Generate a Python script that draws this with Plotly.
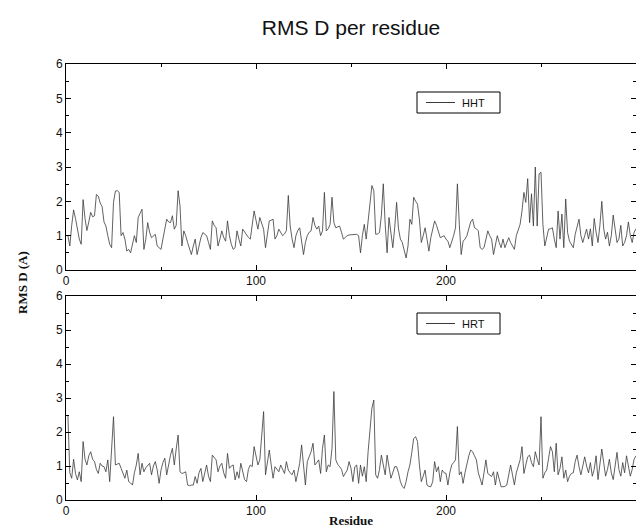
import plotly.graph_objects as go

residues = list(range(1, 301))

hht = [
    1.0, 0.7, 1.3, 1.75, 1.5, 1.2, 0.9, 0.75, 2.05, 1.5,
    1.15, 1.4, 1.68, 1.55, 1.58, 2.2, 2.15, 1.95, 1.85, 1.4,
    1.28, 1.0, 0.75, 0.65, 1.97, 2.3, 2.31, 2.26, 1.0, 1.09,
    0.9, 0.55, 0.6, 0.5, 0.8, 1.0, 0.8, 1.53, 1.65, 1.77,
    0.6, 0.9, 1.38, 1.1, 0.94, 1.0, 1.04, 0.7, 0.65, 0.6,
    0.9, 1.19, 1.48, 1.4, 1.38, 1.58, 1.19, 1.3, 2.31, 1.87,
    0.7, 1.14, 1.0, 0.8, 0.6, 0.45, 0.7, 0.9, 0.45, 0.7,
    0.94, 1.09, 1.05, 1.0, 0.8, 0.6, 1.43, 1.3, 1.23, 0.7,
    0.9, 1.14, 0.95, 0.84, 1.43, 1.0, 0.75, 0.6, 0.65, 1.14,
    0.9, 0.7, 1.19, 1.1, 1.04, 0.95, 0.9, 1.3, 1.72, 1.45,
    1.19, 1.53, 1.35, 1.19, 0.65, 1.0, 1.43, 1.45, 1.48, 0.9,
    1.0, 1.19, 1.1, 1.0, 1.05, 1.15, 2.17, 1.28, 0.9, 0.65,
    1.0, 1.15, 1.23, 0.9, 0.45, 0.8, 1.0, 1.1, 1.14, 1.53,
    1.3, 1.19, 1.28, 1.0, 1.14, 2.26, 1.14, 1.2, 1.33, 2.12,
    1.38, 1.23, 1.25, 1.28, 1.1, 0.9, 0.95, 1.0, 1.02, 1.03,
    1.04, 1.04, 1.04, 1.0, 0.5, 1.0, 1.33, 0.9, 1.4, 1.87,
    2.46, 2.31, 1.04, 1.05, 1.09, 1.6, 2.51, 1.33, 0.5, 1.53,
    1.0, 0.65, 1.23, 1.97, 1.2, 0.9, 0.8, 0.6, 0.35, 0.7,
    1.48, 1.33, 2.12, 2.0, 1.92, 1.48, 0.8, 1.0, 1.23, 0.9,
    0.55, 0.94, 1.2, 1.43, 1.3, 1.14, 0.94, 0.97, 1.0, 0.9,
    0.84, 0.65, 0.8, 1.0, 1.23, 2.51, 1.33, 0.45, 0.84, 0.9,
    1.0, 1.2, 1.4, 1.48, 1.23, 1.2, 1.14, 0.65, 0.6, 0.65,
    0.9, 1.14, 1.0, 0.9, 0.45, 0.7, 1.0, 0.8, 0.65, 0.9,
    0.65, 0.8, 0.94, 0.8, 0.7, 0.6, 1.0, 1.19, 1.33, 1.72,
    2.26, 1.97, 2.66, 1.38, 2.22, 1.28, 3.0, 1.28, 2.8, 2.85,
    1.33, 0.7, 1.0, 1.19, 1.2, 1.23, 0.9, 0.65, 1.72, 0.9,
    1.63, 0.65, 2.07, 1.09, 0.84, 0.75, 0.65, 1.04, 1.3, 1.48,
    1.0, 0.8, 1.0, 1.19, 0.9, 1.2, 0.7, 1.5, 1.1, 0.8,
    1.3, 2.0, 1.2, 0.9, 1.1, 0.7, 1.0, 1.6, 1.2, 0.8,
    0.9, 1.3, 0.7, 0.8, 1.0, 1.4, 1.0, 0.8, 1.1, 1.2,
]

hrt = [
    2.5, 0.8, 0.64, 1.2, 0.78, 0.59, 0.83, 0.54, 1.72, 1.2,
    1.03, 1.3, 1.42, 1.2, 1.13, 0.9, 0.78, 1.08, 1.0, 0.98,
    0.83, 1.18, 0.54, 1.42, 2.45, 1.03, 1.05, 1.08, 0.93, 0.8,
    0.64, 0.88, 0.54, 0.5, 0.44, 0.8, 1.03, 1.37, 0.74, 1.08,
    0.83, 0.95, 1.03, 1.08, 0.74, 1.0, 1.13, 0.88, 0.49, 0.88,
    1.1, 1.23, 0.74, 1.1, 1.32, 1.52, 1.03, 1.5, 1.91, 0.83,
    0.78, 0.8, 0.83, 0.44, 0.42, 0.44, 0.44, 0.69, 0.49, 0.8,
    0.93, 0.54, 0.8, 1.03, 0.7, 0.54, 1.32, 1.25, 1.18, 0.83,
    1.0, 1.08, 0.8, 0.64, 1.37, 0.93, 1.0, 1.03, 0.59, 0.83,
    0.64, 1.08, 0.78, 0.6, 0.54, 0.9, 1.03, 0.98, 1.57, 1.27,
    1.03, 1.18, 1.9, 2.6, 0.74, 1.1, 1.47, 1.03, 0.64, 0.98,
    0.9, 0.83, 1.03, 0.9, 0.78, 1.13, 0.88, 0.8, 0.74, 0.88,
    0.54, 0.8, 1.08, 1.62, 1.03, 0.44, 1.13, 1.3, 1.42, 1.67,
    1.03, 1.1, 1.18, 0.78, 1.52, 1.91, 0.83, 1.03, 0.98, 1.52,
    3.19, 1.18, 1.05, 0.98, 0.9, 0.69, 0.8, 0.88, 1.13, 0.93,
    0.54, 0.98, 1.03, 0.49, 1.03, 0.7, 0.98, 0.54, 1.42, 2.11,
    2.7, 2.94, 0.74, 0.64, 0.9, 1.32, 1.03, 0.74, 1.32, 1.0,
    0.64, 0.8, 0.98, 0.98, 0.8, 0.54, 0.4, 0.34, 0.54, 0.83,
    1.03, 1.4, 1.81, 1.86, 1.72, 1.03, 0.54, 0.7, 0.88, 0.44,
    0.4, 0.39, 0.54, 1.13, 0.83, 0.98, 0.54, 0.88, 0.8, 0.78,
    0.44, 0.8, 1.03, 1.1, 1.18, 2.16, 0.74, 0.83, 0.49, 0.8,
    1.08, 1.3, 1.47, 1.42, 1.3, 1.18, 0.8, 0.59, 0.44, 0.8,
    1.18, 0.78, 0.72, 0.69, 0.83, 0.44, 0.83, 0.6, 0.39, 0.39,
    0.4, 0.44, 0.8, 1.03, 0.74, 0.44, 0.8, 0.98, 1.18, 1.57,
    0.78, 1.03, 1.27, 1.32, 1.1, 0.98, 1.42, 1.2, 1.03, 2.45,
    0.64, 0.8, 0.88, 1.23, 1.57, 1.42, 0.83, 1.67, 0.74, 0.93,
    1.27, 0.64, 0.88, 0.54, 0.7, 0.78, 0.8, 1.13, 1.32, 0.98,
    0.74, 1.0, 1.27, 1.0, 0.8, 1.1, 0.7, 0.9, 1.3, 0.6,
    1.0, 1.5, 1.1, 0.7, 0.9, 1.2, 0.8, 0.6, 1.0, 1.4,
    0.9, 0.7, 1.1, 0.8, 1.3, 1.0, 0.7, 0.9, 1.2, 1.3,
]

series_names = ["HHT", "HRT"]
x_tickvals = [0, 100, 200]
y_tickvals = [0, 1, 2, 3, 4, 5, 6]

W, H = 636, 529
ML, MR, MT, MB = 66, 0, 64, 29
plot_w = W - ML - MR
plot_h = H - MT - MB
top_dom = [(H - MB - 270) / plot_h, 1.0]
bot_dom = [0.0, (H - MB - 296) / plot_h]


def px_x(px):
    return (px - ML) / plot_w


def px_y(py):
    return (H - MB - py) / plot_h


line_style = dict(color="#3a3a3a", width=0.8)

fig = go.Figure()
fig.add_trace(go.Scatter(x=residues, y=hht, mode="lines", line=line_style,
                         name=series_names[0], xaxis="x", yaxis="y", showlegend=False))
fig.add_trace(go.Scatter(x=residues, y=hrt, mode="lines", line=line_style,
                         name=series_names[1], xaxis="x2", yaxis="y2", showlegend=False))

sans = "Liberation Sans, Arial, Helvetica, sans-serif"
serif = "Liberation Serif, Times New Roman, serif"
tick_font = dict(family=sans, size=12, color="#111")
axis_common = dict(showline=True, linecolor="#000", linewidth=1, mirror="ticks",
                   ticks="inside", ticklen=5, tickcolor="#000", showgrid=False,
                   zeroline=False, tickfont=tick_font)

xax = dict(axis_common, range=[0, 300], tickvals=x_tickvals,
           minor=dict(ticks="inside", ticklen=3, dtick=50, tick0=0, tickcolor="#000"))
yax = dict(axis_common, range=[0, 6], tickvals=y_tickvals,
           minor=dict(ticks="inside", ticklen=3, dtick=0.5, tick0=0, tickcolor="#000"))

# legend boxes (one per panel): box, sample line, label
shapes = []
annotations = []
for name, top in zip(series_names, [92, 313]):
    left, right, bottom = 417, 500, top + 21
    mid = top + 10.5
    shapes.append(dict(type="rect", xref="paper", yref="paper",
                       x0=px_x(left), x1=px_x(right), y0=px_y(bottom), y1=px_y(top),
                       line=dict(color="#000", width=1), fillcolor="white", layer="above"))
    shapes.append(dict(type="line", xref="paper", yref="paper",
                       x0=px_x(left + 9), x1=px_x(left + 38), y0=px_y(mid), y1=px_y(mid),
                       line=dict(color="#3a3a3a", width=1), layer="above"))
    annotations.append(dict(text=name, x=px_x(left + 43), y=px_y(mid), xref="paper",
                            yref="paper", xanchor="left", yanchor="middle", showarrow=False,
                            font=dict(family=sans, size=11, color="#111")))

annotations += [
    dict(text="<b>RMS D (A)</b>", textangle=-90, x=px_x(22), y=px_y(283),
         xref="paper", yref="paper", xanchor="center", yanchor="middle",
         showarrow=False, font=dict(family=serif, size=13, color="#111")),
    dict(text="<b>Residue</b>", x=px_x(351), y=px_y(520), xref="paper", yref="paper",
         xanchor="center", yanchor="middle", showarrow=False,
         font=dict(family=serif, size=13, color="#111")),
]

fig.update_layout(
    width=W, height=H,
    margin=dict(l=ML, r=MR, t=MT, b=MB),
    paper_bgcolor="white", plot_bgcolor="white",
    showlegend=False,
    xaxis=dict(xax, domain=[0, 1], anchor="y"),
    yaxis=dict(yax, domain=top_dom, anchor="x"),
    xaxis2=dict(xax, domain=[0, 1], anchor="y2"),
    yaxis2=dict(yax, domain=bot_dom, anchor="x2"),
    title=dict(text="RMS D per residue", x=351 / W, xref="container",
               y=1 - 28 / H, yref="container",
               xanchor="center", yanchor="middle",
               font=dict(family=sans, size=21, color="#111")),
    shapes=shapes,
    annotations=annotations,
)

fig.write_html(
    "out.html",
    config={"displayModeBar": False},
    post_script="document.body.style.margin='0px';document.body.style.padding='0px';",
)
